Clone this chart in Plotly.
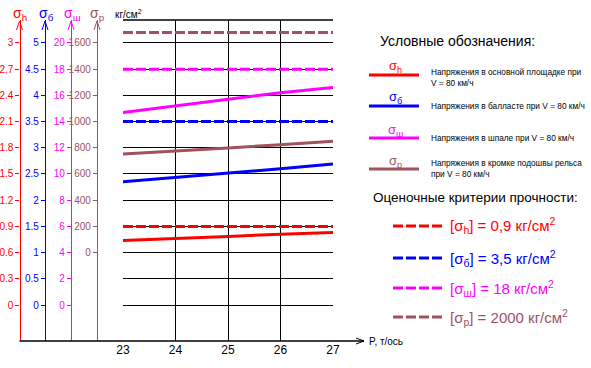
import plotly.graph_objects as go

W, H = 591, 368

# ---- data ----
loads = [23, 24, 25, 26, 27]                      # P, т/ось
sigma_h = [0.74, 0.76, 0.785, 0.81, 0.83]         # основная площадка
sigma_b = [2.35, 2.43, 2.52, 2.60, 2.69]          # балласт
sigma_sh = [14.7, 15.2, 15.7, 16.2, 16.6]         # шпала
sigma_r = [753, 774, 798, 824, 850]               # кромка подошвы рельса
crit_h = 0.9
crit_b = 3.5
crit_sh = 18
crit_r_drawn = 1680   # position where the [σр] line is drawn in the picture

red_ticks = [0, 0.3, 0.6, 0.9, 1.2, 1.5, 1.8, 2.1, 2.4, 2.7, 3]
red_ticktext = ["0", "0.3", "0.6", "0.9", "1.2", "1.5", "1.8", "2.1", "2.4", "2.7", "3"]
blue_ticks = [0, 0.5, 1, 1.5, 2, 2.5, 3, 3.5, 4, 4.5, 5]
blue_ticktext = ["0", "0.5", "1", "1.5", "2", "2.5", "3", "3.5", "4", "4.5", "5"]
mag_ticks = [0, 2, 4, 6, 8, 10, 12, 14, 16, 18, 20]
brown_ticks = [0, 200, 400, 600, 800, 1000, 1200, 1400, 1600]

RED, BLUE, MAG, BROWN = "#ff0000", "#0000ff", "#ff00ff", "#a0525f"
FONT = "Liberation Sans, Arial, sans-serif"

def px(x):
    return x / W

def py(y):
    return 1 - y / H

# red scale range
r0, r1 = -0.412, 3.263
ranges = {
    "y": [r0, r1],
    "y2": [r0 * 5 / 3, r1 * 5 / 3],
    "y3": [r0 * 20 / 3, r1 * 20 / 3],
    "y4": [(r0 - 0.6) * 2000 / 3, (r1 - 0.6) * 2000 / 3],
}

fig = go.Figure()
dash = "10px,3px"

def add(y, axis, color, dashed=False):
    fig.add_trace(go.Scatter(x=loads, y=y, yaxis=axis, mode="lines",
                             line=dict(color=color, width=3, dash=dash if dashed else "solid"),
                             showlegend=False, hoverinfo="skip"))

add([crit_r_drawn] * len(loads), "y4", BROWN, True)
add([crit_sh] * len(loads), "y3", MAG, True)
add([crit_b] * len(loads), "y2", BLUE, True)
add([crit_h] * len(loads), "y", RED, True)
add(sigma_sh, "y3", MAG)
add(sigma_r, "y4", BROWN)
add(sigma_b, "y2", BLUE)
add(sigma_h, "y", RED)

ydom = [py(341), py(20)]

def yax(color, rng, tickvals, ticktext, pos, grid=False, overlay=True):
    d = dict(domain=ydom, range=rng, anchor="free", position=pos, automargin=False,
             showline=True, linecolor=color, linewidth=1.3,
             ticks="outside", ticklen=4, tickcolor=color, tickwidth=1,
             tickvals=tickvals, ticktext=ticktext,
             tickfont=dict(color=color, size=10, family=FONT),
             showgrid=grid, gridcolor="black", gridwidth=1.3, zeroline=False)
    if overlay:
        d["overlaying"] = "y"
    return d

fig.update_layout(
    width=W, height=H, autosize=False,
    margin=dict(l=0, r=0, t=0, b=0, pad=0),
    paper_bgcolor="white", plot_bgcolor="white",
    xaxis=dict(domain=[px(123), px(333)], range=[23, 27], tickvals=loads, automargin=False,
               ticktext=[str(v) for v in loads], showgrid=True, gridcolor="black",
               gridwidth=1.3, zeroline=False, showline=False, ticks="",
               tickfont=dict(color="black", size=12, family=FONT)),
    yaxis=yax(RED, ranges["y"], red_ticks, red_ticktext, px(19.5), grid=True, overlay=False),
    yaxis2=yax(BLUE, ranges["y2"], blue_ticks, blue_ticktext, px(45)),
    yaxis3=yax(MAG, ranges["y3"], mag_ticks, [str(v) for v in mag_ticks], px(71)),
    yaxis4=yax(BROWN, ranges["y4"], brown_ticks, [str(v) for v in brown_ticks], px(97)),
)

shapes = []
# plot top border
shapes.append(dict(type="line", xref="paper", yref="paper", x0=px(123), x1=px(333),
                   y0=py(20), y1=py(20), line=dict(color="black", width=1.3)))
# x axis line with arrow
shapes.append(dict(type="line", xref="paper", yref="paper", x0=px(19.5), x1=px(364),
                   y0=py(341), y1=py(341), line=dict(color="black", width=1.3)))
shapes.append(dict(type="path", xref="paper", yref="paper",
                   path=f"M {px(356)},{py(338)} L {px(364)},{py(341)} L {px(356)},{py(344)}",
                   line=dict(color="black", width=1)))
# arrows on y axes
for xpos, col in [(19.5, RED), (45, BLUE), (71, MAG), (97, BROWN)]:
    shapes.append(dict(type="path", xref="paper", yref="paper",
                       path=f"M {px(xpos-3)},{py(30)} L {px(xpos)},{py(21)} L {px(xpos+3)},{py(30)}",
                       line=dict(color=col, width=1)))

annotations = []
def txt(x, y, text, size, color="black", xanchor="left"):
    annotations.append(dict(x=px(x), y=py(y), xref="paper", yref="paper", text=text,
                            showarrow=False, xanchor=xanchor, yanchor="middle",
                            font=dict(size=size, color=color, family=FONT), align="left"))

# axis titles
txt(20, 14, "σ<sub>h</sub>", 14, RED, "center")
txt(46, 14, "σ<sub>б</sub>", 14, BLUE, "center")
txt(72, 14, "σ<sub>ш</sub>", 14, MAG, "center")
txt(97, 14, "σ<sub>р</sub>", 14, BROWN, "center")
txt(113, 14, "кг/см<sup>2</sup>", 10)
txt(367, 341, "P, т/ось", 10)

# legend: conventions
txt(378, 41, "Условные обозначения:", 14)
leg = [
    (75, RED, "σ<sub>h</sub>", "Напряжения в основной площадке при<br>V = 80 км/ч", 77),
    (106, BLUE, "σ<sub>б</sub>", "Напряжения в балласте при V = 80 км/ч", 106),
    (138, MAG, "σ<sub>ш</sub>", "Напряжения в шпале при V = 80 км/ч", 138),
    (169, BROWN, "σ<sub>р</sub>", "Напряжения в кромке подошвы рельса<br>при V = 80 км/ч", 168),
]
for yl, col, sym, desc, yd in leg:
    shapes.append(dict(type="line", xref="paper", yref="paper", x0=px(369), x1=px(419),
                       y0=py(yl), y1=py(yl), line=dict(color=col, width=3)))
    txt(395, yl - 8, sym, 13, col, "center")
    txt(429, yd, desc, 8.3)

txt(371, 198, "Оценочные критерии прочности:", 13.5)
crit = [
    (226, RED, "[σ<sub>h</sub>] = 0,9 кг/см<sup>2</sup>"),
    (258, BLUE, "[σ<sub>б</sub>] = 3,5 кг/см<sup>2</sup>"),
    (288, MAG, "[σ<sub>ш</sub>] = 18 кг/см<sup>2</sup>"),
    (317, BROWN, "[σ<sub>р</sub>] = 2000 кг/см<sup>2</sup>"),
]
for yl, col, t in crit:
    shapes.append(dict(type="line", xref="paper", yref="paper", x0=px(393), x1=px(443),
                       y0=py(yl), y1=py(yl), line=dict(color=col, width=3, dash=dash)))
    txt(448, yl, t, 15, col)

fig.update_layout(shapes=shapes, annotations=annotations)
fig.write_html("out.html", config={"displayModeBar": False},
               post_script="document.body.style.margin='0';")
